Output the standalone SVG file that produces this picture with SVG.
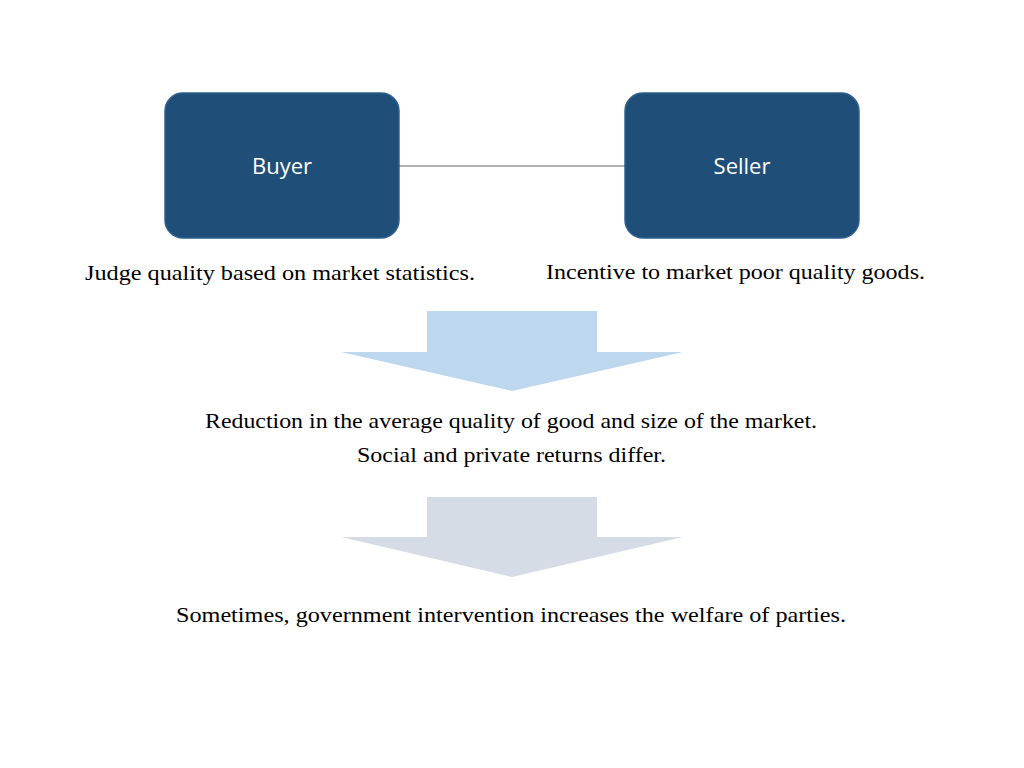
<svg xmlns="http://www.w3.org/2000/svg" width="1024" height="768" viewBox="0 0 1024 768">
<style>
.box{fill:#1F4E79;stroke:#2F5F8F;stroke-width:1.5}
.bt{font-family:"Open Sans","Noto Sans",sans-serif;font-size:22px;fill:#fff;text-anchor:middle}
.t{font-family:"Liberation Serif",serif;font-size:21px;fill:#000}
</style>
<rect width="1024" height="768" fill="#fff"/>
<g id="connectors">
<line x1="399" y1="166" x2="625" y2="166" stroke="#666" stroke-width="1"/>
</g>
<g id="buyer"><rect class="box" x="165" y="93" width="234" height="145" rx="18"/><text class="bt" x="282" y="174">Buyer</text></g>
<g id="seller"><rect class="box" x="625" y="93" width="234" height="145" rx="18"/><text class="bt" x="742" y="174">Seller</text></g>
<g id="buyer-note"><text class="t" x="85" y="280" textLength="390" lengthAdjust="spacingAndGlyphs">Judge quality based on market statistics.</text></g>
<g id="seller-note"><text class="t" x="546" y="279" textLength="379" lengthAdjust="spacingAndGlyphs">Incentive to market poor quality goods.</text></g>
<g id="arrow1"><polygon points="427,311 597,311 597,352 683,352 512,391 341,352 427,352" fill="#BDD7EE"/></g>
<g id="result"><text class="t" x="205" y="428" textLength="612" lengthAdjust="spacingAndGlyphs">Reduction in the average quality of good and size of the market.</text>
<text class="t" x="357" y="462" textLength="309" lengthAdjust="spacingAndGlyphs">Social and private returns differ.</text></g>
<g id="arrow2"><polygon points="427,497 597,497 597,537 683,537 512,577 341,537 427,537" fill="#D6DCE5"/></g>
<g id="conclusion"><text class="t" x="176" y="622" textLength="670" lengthAdjust="spacingAndGlyphs">Sometimes, government intervention increases the welfare of parties.</text></g>
</svg>
